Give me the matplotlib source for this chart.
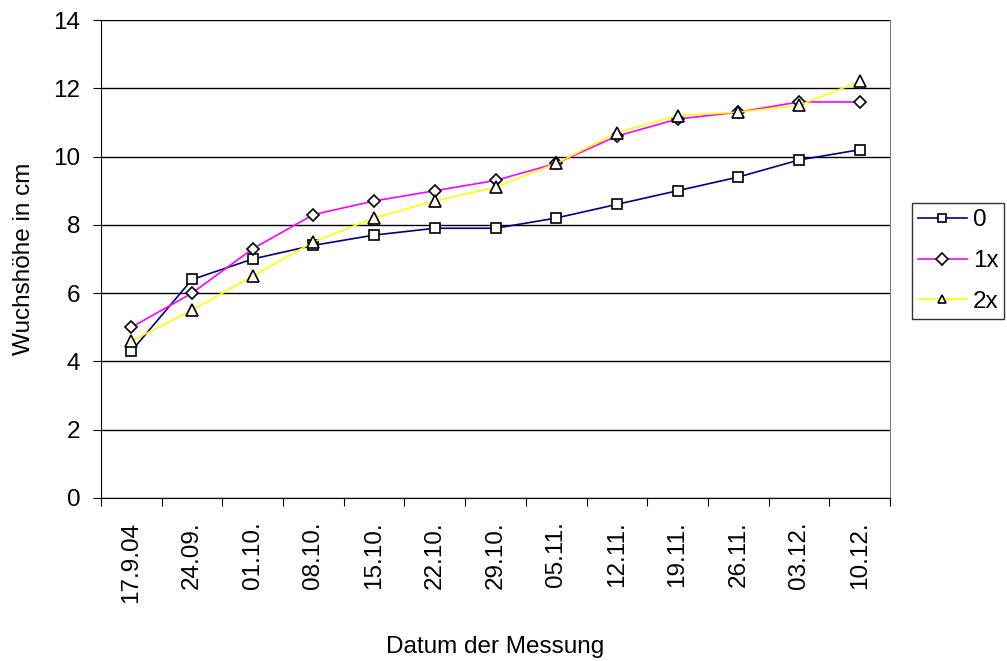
import matplotlib.pyplot as plt
import numpy as np

plt.rcParams['font.family'] = ['Liberation Sans', 'DejaVu Sans']

dates = ['17.9.04', '24.09.', '01.10.', '08.10.', '15.10.', '22.10.', '29.10.',
         '05.11.', '12.11.', '19.11.', '26.11.', '03.12.', '10.12.']
series_0 = [4.3, 6.4, 7.0, 7.4, 7.7, 7.9, 7.9, 8.2, 8.6, 9.0, 9.4, 9.9, 10.2]
series_1x = [5.0, 6.0, 7.3, 8.3, 8.7, 9.0, 9.3, 9.8, 10.6, 11.1, 11.3, 11.6, 11.6]
series_2x = [4.6, 5.5, 6.5, 7.5, 8.2, 8.7, 9.1, 9.8, 10.7, 11.2, 11.3, 11.5, 12.2]

fs = 17.5

fig = plt.figure(figsize=(10.07, 6.61), dpi=100)
ax = fig.add_axes([101 / 1007, 1 - 498 / 661, (890 - 101) / 1007, (498 - 20) / 661])

x = np.arange(len(dates))
ax.plot(x, series_0, color='#000080', lw=1.2, marker='s', ms=7, mfc='white', mec='black', mew=1.2, label='0', zorder=3)
ax.plot(x, series_1x, color='#ff00ff', lw=1.2, marker='D', ms=6, mfc='white', mec='black', mew=1.2, label='1x', zorder=3)
ax.plot(x, series_2x, color='#ffff00', lw=1.2, marker='^', ms=8, mfc='white', mec='black', mew=1.2, label='2x', zorder=3)

ax.set_xlim(-0.5, len(dates) - 0.5)
ax.set_ylim(0, 14)
ax.set_yticks(np.arange(0, 15, 2))
ax.yaxis.grid(True, color='black', lw=1)
ax.set_axisbelow(True)

# category boundaries as tick marks, labels centered in between
ax.set_xticks(np.arange(-0.5, len(dates), 1))
ax.set_xticklabels([])
ax.set_xticks(x, minor=True)
ax.set_xticklabels(dates, minor=True, rotation=90, fontsize=fs)
ax.tick_params(axis='x', which='major', length=6, color='black')
ax.tick_params(axis='x', which='minor', length=0, pad=17)
ax.tick_params(axis='y', length=6, labelsize=fs, pad=9)

ax.spines['top'].set_visible(False)
ax.spines['right'].set_color('#808080')
ax.spines['left'].set_color('black')
ax.spines['bottom'].set_color('black')

ax.set_xlabel('Datum der Messung', fontsize=fs, labelpad=24)
ax.set_ylabel('Wuchshöhe in cm', fontsize=fs, labelpad=13)

leg = ax.legend(loc='center left', bbox_to_anchor=(912 / 1007, 1 - 261 / 661),
                bbox_transform=fig.transFigure, fontsize=fs, frameon=True,
                fancybox=False, edgecolor='black', handlelength=2.0,
                borderpad=0.25, labelspacing=0.78, handletextpad=0.25,
                borderaxespad=0)
leg.get_frame().set_linewidth(1)
for h in leg.legend_handles:
    h.set_markersize(6)

fig.savefig('out.png', dpi=100)
